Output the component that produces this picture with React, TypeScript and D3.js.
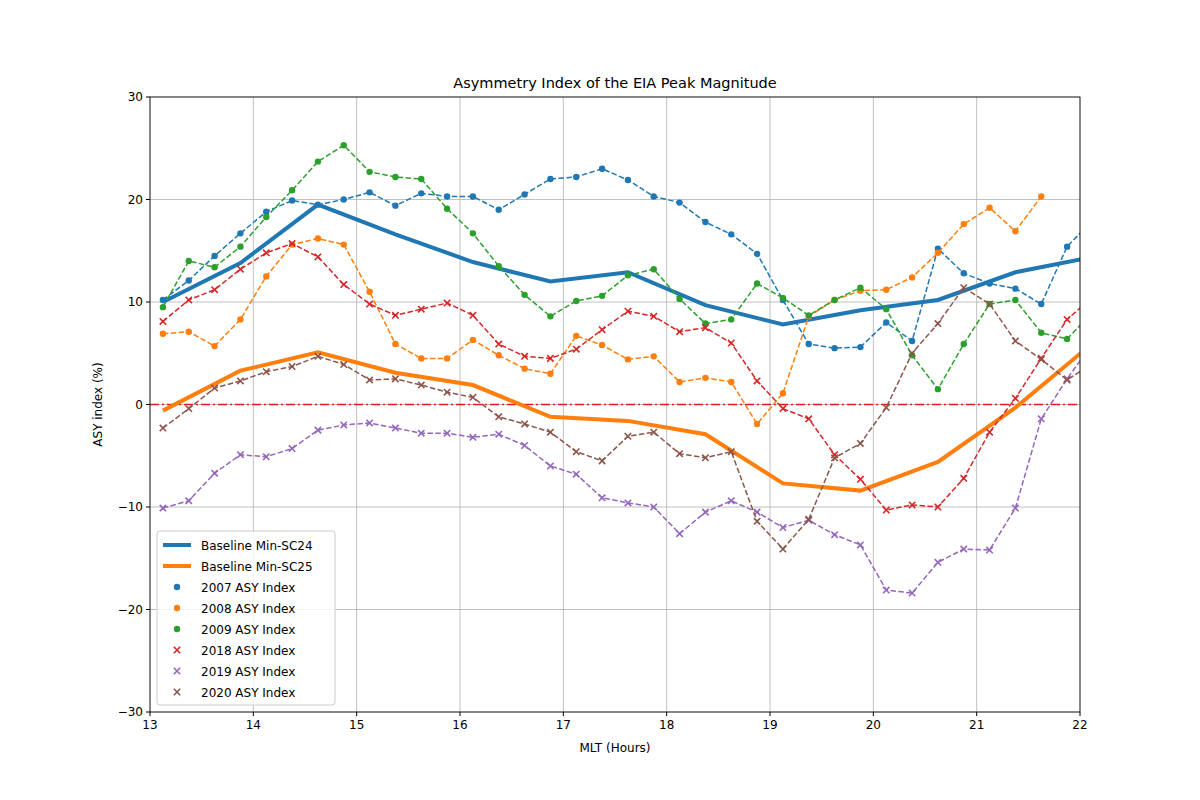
import * as d3 from "d3";

const hours = d3.range(37).map((i) => 13.125 + 0.25 * i);
const baseHours = d3.range(13).map((i) => 13.125 + 0.75 * i);

const sc24 = [10, 13.8, 19.5, 16.6, 13.9, 12, 12.9, 9.7, 7.8, 9.2, 10.2, 12.9, 14.4];
const sc25 = [-0.6, 3.3, 5.1, 3.1, 1.9, -1.2, -1.6, -2.9, -7.7, -8.4, -5.6, -0.3, 6];

const y2007 = [10.2, 12.1, 14.5, 16.7, 18.8, 19.9, 19.5, 20, 20.7, 19.4, 20.6, 20.3, 20.3, 19, 20.5, 22, 22.2, 23, 21.9, 20.3, 19.7, 17.8, 16.6, 14.7, 10.2, 5.9, 5.5, 5.6, 8, 6.2, 15.2, 12.8, 11.8, 11.3, 9.8, 15.4, 18];
const y2008 = [6.9, 7.1, 5.7, 8.3, 12.5, 15.6, 16.2, 15.6, 11, 5.9, 4.5, 4.5, 6.3, 4.8, 3.5, 3.0, 6.7, 5.8, 4.4, 4.7, 2.2, 2.6, 2.2, -1.9, 1.1, 8.6, 10.2, 11.1, 11.2, 12.4, 14.8, 17.6, 19.2, 16.9, 20.3];
const y2009 = [9.5, 14, 13.4, 15.4, 18.3, 20.9, 23.7, 25.3, 22.7, 22.2, 22, 19.1, 16.7, 13.5, 10.7, 8.6, 10.1, 10.6, 12.6, 13.2, 10.3, 7.9, 8.3, 11.8, 10.4, 8.7, 10.2, 11.4, 9.3, 4.8, 1.5, 5.9, 9.8, 10.2, 7.0, 6.4, 9];
const y2018 = [8.1, 10.2, 11.2, 13.2, 14.8, 15.7, 14.4, 11.7, 9.8, 8.7, 9.3, 9.9, 8.7, 5.9, 4.7, 4.5, 5.4, 7.3, 9.1, 8.6, 7.1, 7.5, 6, 2.3, -0.4, -1.4, -4.9, -7.3, -10.3, -9.8, -10, -7.2, -2.7, 0.6, 4.5, 8.3, 10.5];
const y2019 = [-10.1, -9.4, -6.7, -4.9, -5.1, -4.3, -2.5, -2, -1.8, -2.3, -2.8, -2.8, -3.2, -2.9, -4, -6, -6.8, -9.1, -9.6, -10, -12.6, -10.5, -9.4, -10.5, -12, -11.3, -12.7, -13.7, -18.1, -18.4, -15.4, -14.1, -14.2, -10.1, -1.4, 2.5, 6];
const y2020 = [-2.3, -0.4, 1.6, 2.3, 3.2, 3.7, 4.7, 3.9, 2.4, 2.5, 1.9, 1.2, 0.7, -1.2, -1.9, -2.7, -4.6, -5.5, -3.1, -2.7, -4.8, -5.2, -4.6, -11.4, -14.1, -11.2, -5.2, -3.8, -0.3, 5, 7.9, 11.4, 9.8, 6.2, 4.4, 2.4, 4];

const yearSeries = [
  { name: "2007 ASY Index", vals: y2007, color: "#1f77b4", marker: "o" },
  { name: "2008 ASY Index", vals: y2008, color: "#ff7f0e", marker: "o" },
  { name: "2009 ASY Index", vals: y2009, color: "#2ca02c", marker: "o" },
  { name: "2018 ASY Index", vals: y2018, color: "#d62728", marker: "x" },
  { name: "2019 ASY Index", vals: y2019, color: "#9467bd", marker: "x" },
  { name: "2020 ASY Index", vals: y2020, color: "#8c564b", marker: "x" },
];
const xTicks = [13, 14, 15, 16, 17, 18, 19, 20, 21, 22];
const yTicks = [-30, -20, -10, 0, 10, 20, 30];

const L = 150, R = 1080, T = 97, B = 712;
const x = d3.scaleLinear().domain([13, 22]).range([L, R]);
const y = d3.scaleLinear().domain([-30, 30]).range([B, T]);
const line = d3.line<[number, number]>().x((d) => x(d[0])).y((d) => y(d[1]));

function Marker({ kind, cx, cy, color }: { kind: string; cx: number; cy: number; color: string }) {
  if (kind === "o") return <circle cx={cx} cy={cy} r={3.2} fill={color} />;
  const s = 3.2;
  return (
    <path d={`M${cx - s},${cy - s}L${cx + s},${cy + s}M${cx - s},${cy + s}L${cx + s},${cy - s}`} stroke={color} strokeWidth={1.6} />
  );
}

export default function App() {
  const font = "DejaVu Sans, sans-serif";
  return (
    <svg width={1200} height={800} style={{ position: "absolute", left: 0, top: 0 }} fontFamily={font}>
      <rect width={1200} height={800} fill="#fff" />
      <defs>
        <clipPath id="clip"><rect x={L} y={T} width={R - L} height={B - T} /></clipPath>
      </defs>
      {xTicks.map((t) => (
        <line key={"gx" + t} x1={x(t)} x2={x(t)} y1={T} y2={B} stroke="#b0b0b0" strokeWidth={0.8} />
      ))}
      {yTicks.map((t) => (
        <line key={"gy" + t} x1={L} x2={R} y1={y(t)} y2={y(t)} stroke="#b0b0b0" strokeWidth={0.8} />
      ))}
      <g clipPath="url(#clip)">
        <line x1={L} x2={R} y1={y(0)} y2={y(0)} stroke="#e41a1c" strokeWidth={1.5} strokeDasharray="9,3,2,3" />
        <path d={line(baseHours.map((h, i) => [h, sc24[i]]))!} fill="none" stroke="#1f77b4" strokeWidth={4} />
        <path d={line(baseHours.map((h, i) => [h, sc25[i]]))!} fill="none" stroke="#ff7f0e" strokeWidth={4} />
        {yearSeries.map((s) => (
          <g key={s.name}>
            <path d={line(s.vals.map((v, i) => [hours[i], v]))!} fill="none" stroke={s.color} strokeWidth={1.5} strokeDasharray="5.5,2.4" />
            {s.vals.map((v, i) => (
              <Marker key={i} kind={s.marker} cx={x(hours[i])} cy={y(v)} color={s.color} />
            ))}
          </g>
        ))}
      </g>
      <rect x={L} y={T} width={R - L} height={B - T} fill="none" stroke="#000" strokeWidth={0.8} />
      {xTicks.map((t) => (
        <g key={"tx" + t}>
          <line x1={x(t)} x2={x(t)} y1={B} y2={B + 4} stroke="#000" />
          <text x={x(t)} y={B + 17} fontSize={12} textAnchor="middle">{t}</text>
        </g>
      ))}
      {yTicks.map((t) => (
        <g key={"ty" + t}>
          <line x1={L - 4} x2={L} y1={y(t)} y2={y(t)} stroke="#000" />
          <text x={L - 7} y={y(t) + 4} fontSize={12} textAnchor="end">{t < 0 ? "\u2212" + -t : t}</text>
        </g>
      ))}
      <text x={(L + R) / 2} y={752} fontSize={12} textAnchor="middle">MLT (Hours)</text>
      <text transform={`translate(102,${(T + B) / 2}) rotate(-90)`} fontSize={12} textAnchor="middle">ASY index (%)</text>
      <text x={(L + R) / 2} y={88} fontSize={14.5} textAnchor="middle">Asymmetry Index of the EIA Peak Magnitude</text>
      <g transform="translate(157,531)">
        <rect width={178} height={174} rx={3} fill="#fff" fillOpacity={0.8} stroke="#ccc" />
        <line x1={6} x2={34} y1={14} y2={14} stroke="#1f77b4" strokeWidth={4} />
        <text x={44} y={18.5} fontSize={12}>Baseline Min-SC24</text>
        <line x1={6} x2={34} y1={35} y2={35} stroke="#ff7f0e" strokeWidth={4} />
        <text x={44} y={39.5} fontSize={12}>Baseline Min-SC25</text>
        {yearSeries.map((s, i) => (
          <g key={s.name}>
            <Marker kind={s.marker} cx={20} cy={56 + i * 21} color={s.color} />
            <text x={44} y={60.5 + i * 21} fontSize={12}>{s.name}</text>
          </g>
        ))}
      </g>
    </svg>
  );
}
